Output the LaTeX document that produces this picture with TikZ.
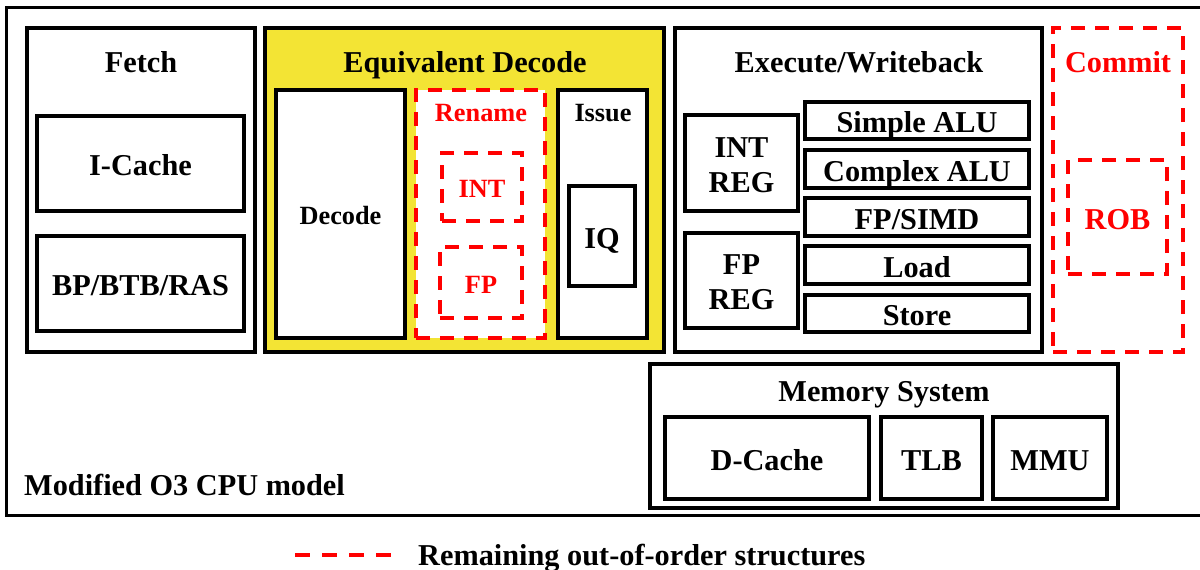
\documentclass[tikz,border=0pt]{standalone}
\usepackage{fontspec}
\setmainfont{Liberation Serif}
\usetikzlibrary{fit}
\definecolor{stageyellow}{RGB}{243,228,52}
\definecolor{oored}{RGB}{255,0,0}
\begin{document}
\begin{tikzpicture}[x=1pt,y=-1pt,
  blk/.style={draw=black, line width=4pt, fill=white, inner sep=0pt, rectangle},
  oobox/.style={draw=oored, line width=4pt, dash pattern=on 14pt off 10pt, fill=white, inner sep=0pt, rectangle},
  % labels are centred on the capital height of their line
  big/.style={font=\fontsize{30.3}{35}\selectfont\bfseries, inner sep=0pt, text height=20pt, text depth=0pt},
  small/.style={font=\fontsize{26.3}{30}\selectfont\bfseries, inner sep=0pt, text height=17.4pt, text depth=0pt},
  inbox/.style={yshift=-2pt},
  redtxt/.style={text=oored}]
\useasboundingbox (0,0) rectangle (1200,570);
\begin{scope}
\clip (0,0) rectangle (1200,570);
% whole CPU model
\node[draw=black, line width=3pt, inner sep=0pt, fit={(6,7) (1220,515)}] (cpu) {};
\end{scope}

% Fetch stage
\node[blk, fit={(27,28) (255,352)}] (fetch) {};
\node[big] (fetchlbl) at (141,62) {Fetch};
\node[blk, fit={(37,116) (244,211)}] (icache) {};
\node[big, inbox] at (icache.center) {I-Cache};
\node[blk, fit={(37,236) (244,331)}] (bp) {};
\node[big, inbox] at (bp.center) {BP/BTB/RAS};

% Equivalent decode stage
\node[blk, fill=stageyellow, fit={(265,28) (664,352)}] (eqdec) {};
\node[big] (eqdeclbl) at (465,62) {Equivalent Decode};
\node[blk, fit={(276,90) (405,338)}] (decode) {};
\node[small, inbox] at (decode.center) {Decode};
\node[oobox, fit={(416,90) (545,338)}] (rename) {};
\node[small, redtxt] (renamelbl) at (481,113) {Rename};
\node[oobox, fit={(442,153) (522,221)}] (rint) {};
\node[small, redtxt, inbox] at (rint.center) {INT};
\node[oobox, fit={(440,247) (522,318)}] (rfp) {};
\node[small, redtxt, inbox] at (rfp.center) {FP};
\node[blk, fit={(558,90) (647,338)}] (issue) {};
\node[small] (issuelbl) at (603,113) {Issue};
\node[blk, fit={(569,186) (635,286)}] (iq) {};
\node[big, inbox] at (iq.center) {IQ};

% Execute / writeback stage
\node[blk, fit={(675,28) (1042,352)}] (exec) {};
\node[big] (execlbl) at (859,62) {Execute/Writeback};
\node[blk, fit={(685,115) (798,211)}] (intreg) {};
\node[big] at ([yshift=16pt]intreg.center) {INT};
\node[big] at ([yshift=-19pt]intreg.center) {REG};
\node[blk, fit={(685,233) (798,328)}] (fpreg) {};
\node[big] at ([yshift=16pt]fpreg.center) {FP};
\node[big] at ([yshift=-19pt]fpreg.center) {REG};
\node[blk, fit={(805,102) (1029,139)}] (salu) {};
\node[big, inbox] at (salu.center) {Simple ALU};
\node[blk, fit={(805,150) (1029,188)}] (calu) {};
\node[big, inbox] at (calu.center) {Complex ALU};
\node[blk, fit={(805,198) (1029,236)}] (simd) {};
\node[big, inbox] at (simd.center) {FP/SIMD};
\node[blk, fit={(805,246) (1029,284)}] (load) {};
\node[big, inbox] at (load.center) {Load};
\node[blk, fit={(805,295) (1029,332)}] (store) {};
\node[big, inbox] at (store.center) {Store};

% Commit stage
\node[oobox, fit={(1053,28) (1183,352)}] (commit) {};
\node[big, redtxt] (commitlbl) at (1118,62) {Commit};
\node[oobox, fit={(1068,160) (1167,274)}] (rob) {};
\node[big, redtxt, inbox] at (rob.center) {ROB};

% Memory system
\node[blk, fit={(650,364) (1118,508)}] (mem) {};
\node[big] (memlbl) at (884,391) {Memory System};
\node[blk, fit={(665,417) (869,499)}] (dcache) {};
\node[big, inbox] at (dcache.center) {D-Cache};
\node[blk, fit={(881,417) (982,499)}] (tlb) {};
\node[big, inbox] at (tlb.center) {TLB};
\node[blk, fit={(993,417) (1107,499)}] (mmu) {};
\node[big, inbox] at (mmu.center) {MMU};

\node[big, anchor=west] (cpulbl) at (24,485) {Modified O3 CPU model};

% Legend
\coordinate (lgA) at (295,555);
\coordinate (lgB) at (392,555);
\draw[oored, line width=4pt, dash pattern=on 15pt off 12pt] (lgA) -- (lgB);
\node[big, anchor=west] (lgtxt) at (418,555) {Remaining out-of-order structures};
\end{tikzpicture}
\end{document}
